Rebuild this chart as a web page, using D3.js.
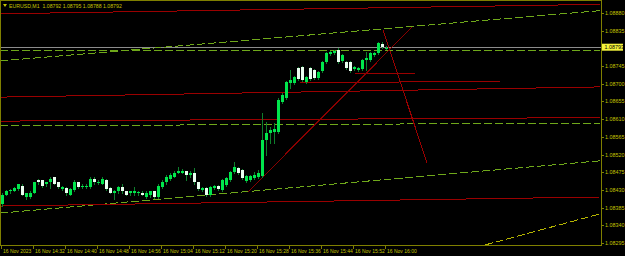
<!DOCTYPE html>
<html>
<head>
<meta charset="utf-8">
<script src="https://cdn.jsdelivr.net/npm/d3@7/dist/d3.min.js"></script>
<style>
  html, body { margin: 0; padding: 0; background: #000; overflow: hidden; }
  text { font-family: "Liberation Sans", Arial, sans-serif; }
</style>
</head>
<body>
<div id="chart"></div>
<script>
var symbol = "EURUSD,M1";
var lastQuote = ["1.08792", "1.08795", "1.08788", "1.08792"];
var bidPrice = 1.08793;

// one-minute bars, 14:24 .. 16:00
var opens = [1.08393, 1.08418, 1.08426, 1.08428, 1.08433, 1.08441, 1.08413, 1.08413, 1.08423, 1.08456,
  1.08454, 1.08444, 1.08449, 1.08462, 1.08449, 1.08433, 1.08436, 1.08418, 1.08431, 1.08449,
  1.08438, 1.08438, 1.08438, 1.08459, 1.08449, 1.08446, 1.08456, 1.08436, 1.08423, 1.08426,
  1.08438, 1.08426, 1.08421, 1.08421, 1.08421, 1.08423, 1.08413, 1.08416, 1.08426, 1.08413,
  1.08438, 1.08449, 1.08459, 1.08464, 1.08474, 1.08474, 1.08477, 1.08467, 1.08474, 1.08449,
  1.08431, 1.08435, 1.08417, 1.08435, 1.08440, 1.08430, 1.08443, 1.08455, 1.08476, 1.08486,
  1.08481, 1.08453, 1.08455, 1.08460, 1.08463, 1.08465, 1.08557, 1.08575, 1.08577, 1.08577,
  1.08654, 1.08664, 1.08702, 1.08702, 1.08740, 1.08743, 1.08705, 1.08740, 1.08735, 1.08715,
  1.08733, 1.08755, 1.08776, 1.08778, 1.08786, 1.08758, 1.08755, 1.08755, 1.08738, 1.08735,
  1.08738, 1.08760, 1.08760, 1.08773, 1.08778, 1.08801, 1.08792];
var highs = [1.08421, 1.08431, 1.08433, 1.08438, 1.08446, 1.08446, 1.08423, 1.08426, 1.08451, 1.08459,
  1.08456, 1.08451, 1.08462, 1.08464, 1.08451, 1.08441, 1.08438, 1.08436, 1.08454, 1.08451,
  1.08444, 1.08446, 1.08462, 1.08462, 1.08454, 1.08462, 1.08459, 1.08438, 1.08431, 1.08441,
  1.08444, 1.08428, 1.08428, 1.08438, 1.08426, 1.08426, 1.08426, 1.08428, 1.08428, 1.08444,
  1.08454, 1.08467, 1.08472, 1.08477, 1.08489, 1.08482, 1.08479, 1.08477, 1.08487, 1.08451,
  1.08438, 1.08438, 1.08440, 1.08443, 1.08443, 1.08458, 1.08463, 1.08478, 1.08501, 1.08488,
  1.08484, 1.08468, 1.08468, 1.08476, 1.08481, 1.08626, 1.08603, 1.08590, 1.08600, 1.08664,
  1.08676, 1.08708, 1.08735, 1.08720, 1.08743, 1.08745, 1.08720, 1.08743, 1.08738, 1.08733,
  1.08758, 1.08781, 1.08783, 1.08786, 1.08791, 1.08776, 1.08758, 1.08758, 1.08745, 1.08743,
  1.08763, 1.08781, 1.08781, 1.08781, 1.08806, 1.08806, 1.08795];
var lows = [1.08390, 1.08416, 1.08423, 1.08426, 1.08431, 1.08416, 1.08408, 1.08410, 1.08421, 1.08446,
  1.08438, 1.08441, 1.08436, 1.08444, 1.08436, 1.08431, 1.08418, 1.08416, 1.08428, 1.08436,
  1.08436, 1.08436, 1.08436, 1.08446, 1.08446, 1.08444, 1.08431, 1.08421, 1.08408, 1.08423,
  1.08423, 1.08416, 1.08418, 1.08418, 1.08418, 1.08416, 1.08410, 1.08413, 1.08410, 1.08410,
  1.08436, 1.08446, 1.08456, 1.08462, 1.08472, 1.08472, 1.08454, 1.08464, 1.08446, 1.08431,
  1.08428, 1.08415, 1.08415, 1.08432, 1.08430, 1.08427, 1.08440, 1.08453, 1.08473, 1.08470,
  1.08458, 1.08450, 1.08453, 1.08458, 1.08460, 1.08463, 1.08519, 1.08549, 1.08549, 1.08575,
  1.08651, 1.08661, 1.08689, 1.08700, 1.08710, 1.08707, 1.08702, 1.08710, 1.08712, 1.08712,
  1.08730, 1.08753, 1.08773, 1.08776, 1.08753, 1.08755, 1.08738, 1.08730, 1.08735, 1.08733,
  1.08735, 1.08735, 1.08758, 1.08771, 1.08776, 1.08791, 1.08788];
var closes = [1.08418, 1.08428, 1.08431, 1.08436, 1.08444, 1.08418, 1.08421, 1.08423, 1.08449, 1.08449,
  1.08441, 1.08449, 1.08459, 1.08446, 1.08438, 1.08438, 1.08421, 1.08433, 1.08451, 1.08438,
  1.08441, 1.08441, 1.08459, 1.08449, 1.08451, 1.08459, 1.08433, 1.08423, 1.08428, 1.08438,
  1.08426, 1.08418, 1.08426, 1.08426, 1.08424, 1.08418, 1.08423, 1.08426, 1.08413, 1.08441,
  1.08451, 1.08464, 1.08469, 1.08474, 1.08479, 1.08479, 1.08469, 1.08474, 1.08449, 1.08433,
  1.08436, 1.08417, 1.08438, 1.08440, 1.08432, 1.08455, 1.08460, 1.08476, 1.08488, 1.08473,
  1.08460, 1.08465, 1.08465, 1.08468, 1.08473, 1.08557, 1.08575, 1.08582, 1.08585, 1.08659,
  1.08671, 1.08705, 1.08710, 1.08717, 1.08712, 1.08710, 1.08717, 1.08712, 1.08715, 1.08730,
  1.08755, 1.08778, 1.08781, 1.08783, 1.08755, 1.08773, 1.08740, 1.08733, 1.08743, 1.08740,
  1.08760, 1.08766, 1.08778, 1.08778, 1.08804, 1.08794, 1.08792];

var timeLabels = ["16 Nov 2023", "16 Nov 14:32", "16 Nov 14:40", "16 Nov 14:48", "16 Nov 14:56",
  "16 Nov 15:04", "16 Nov 15:12", "16 Nov 15:20", "16 Nov 15:28", "16 Nov 15:36",
  "16 Nov 15:44", "16 Nov 15:52", "16 Nov 16:00"];
var timeLabelBars = [0, 8, 16, 24, 32, 40, 48, 56, 64, 72, 80, 88, 96];
var priceTicks = [1.08880, 1.08835, 1.08745, 1.08700, 1.08655, 1.08610, 1.08565,
  1.08520, 1.08475, 1.08430, 1.08385, 1.08340, 1.08295];

// drawn objects: [bar1, price1, bar2, price2]
var redLines = [
  [-0.5, 1.08878, 149.5, 1.08902],
  [-0.5, 1.08666, 149.5, 1.08692],
  [74.5, 1.08702, 124.5, 1.08707],
  [88.25, 1.08727, 103.25, 1.08727],
  [-0.5, 1.08605, 149.5, 1.08614],
  [-0.5, 1.08389, 149.5, 1.08412],
  [95.25, 1.08837, 106.25, 1.08499]
];
var trendLines = [
  [61.5, 1.08425, 102.5, 1.08844]
];
var greenDashed = [
  [-0.5, 1.08758, 149.5, 1.08886],
  [-0.5, 1.08785, 149.5, 1.08785],
  [-0.5, 1.08593, 149.5, 1.08600],
  [-0.5, 1.08371, 149.5, 1.08504]
];
var yellowDashed = [
  [120.75, 1.08290, 149.5, 1.08369]
];

var W = 625, H = 256;
var plot = { left: 1, right: 601, top: 1, bottom: 245 };
var axisColor = "#7f7f00", textColor = "#c4c400";

var svg = d3
  .select("#chart")
  .append("svg")
  .attr("width", W)
  .attr("height", H)
  .style("display", "block")
  .style("background", "#000");

var x = d3.scaleLinear().domain([0, 149.5]).range([2, 600]);
var y = d3.scaleLinear().domain([1.08295, 1.08880]).range([243, 13]);

svg.append("clipPath").attr("id", "plotclip")
  .append("rect")
  .attr("x", plot.left).attr("y", plot.top)
  .attr("width", plot.right - plot.left).attr("height", plot.bottom - plot.top);

var g = svg.append("g").attr("clip-path", "url(#plotclip)");

function drawSegments(list, color, dash) {
  g.append("g")
    .selectAll("line")
    .data(list)
    .enter()
    .append("line")
    .attr("x1", (d) => x(d[0]))
    .attr("y1", (d) => y(d[1]))
    .attr("x2", (d) => x(d[2]))
    .attr("y2", (d) => y(d[3]))
    .attr("stroke", color)
    .attr("stroke-width", 1)
    .attr("stroke-dasharray", dash)
    .attr("shape-rendering", "crispEdges");
}

// bid line
g.append("line")
  .attr("x1", plot.left).attr("x2", plot.right)
  .attr("y1", Math.round(y(bidPrice)) + 0.5).attr("y2", Math.round(y(bidPrice)) + 0.5)
  .attr("stroke", "#8c8c8c")
  .attr("shape-rendering", "crispEdges");

drawSegments(greenDashed, "#6fa81a", "8,3");
drawSegments(yellowDashed, "#b4b400", "8,3");
drawSegments(redLines, "#9a0000", null);
drawSegments(trendLines, "#8a0000", null);

// candles
var bars = d3.range(opens.length).map((i) => ({
  i: i, o: opens[i], h: highs[i], l: lows[i], c: closes[i]
}));

var candle = g.append("g").selectAll("g").data(bars).enter().append("g");

candle.append("line")
  .attr("x1", (d) => Math.round(x(d.i)) + 0.5)
  .attr("x2", (d) => Math.round(x(d.i)) + 0.5)
  .attr("y1", (d) => Math.round(y(d.h)))
  .attr("y2", (d) => Math.round(y(d.l)) + 1)
  .attr("stroke", "#0d7f2c")
  .attr("shape-rendering", "crispEdges");

candle.append("rect")
  .attr("x", (d) => Math.round(x(d.i)) - 1)
  .attr("width", 3)
  .attr("y", (d) => Math.round(y(Math.max(d.o, d.c))))
  .attr("height", (d) => Math.max(1, Math.round(y(Math.min(d.o, d.c))) - Math.round(y(Math.max(d.o, d.c)))))
  .attr("fill", (d) => (d.c >= d.o ? "#00e64c" : "#eafff0"))
  .attr("shape-rendering", "crispEdges");

// frame
svg.append("rect")
  .attr("x", 0.5).attr("y", 0.5)
  .attr("width", plot.right).attr("height", plot.bottom)
  .attr("fill", "none")
  .attr("stroke", axisColor)
  .attr("shape-rendering", "crispEdges");

// price axis
var pt = svg.append("g").selectAll("g").data(priceTicks).enter().append("g");
pt.append("line")
  .attr("x1", plot.right).attr("x2", plot.right + 3)
  .attr("y1", (d) => Math.round(y(d)) + 0.5).attr("y2", (d) => Math.round(y(d)) + 0.5)
  .attr("stroke", axisColor)
  .attr("shape-rendering", "crispEdges");
pt.append("text")
  .attr("x", plot.right + 4)
  .attr("y", (d) => y(d) + 2)
  .attr("font-size", "5.4px")
  .attr("fill", textColor)
  .text((d) => d.toFixed(5));

// current price marker
svg.append("rect")
  .attr("x", plot.right + 1).attr("y", y(bidPrice) - 3.5)
  .attr("width", 21).attr("height", 7)
  .attr("fill", "#f4f43c");
svg.append("text")
  .attr("x", plot.right + 3.5)
  .attr("y", y(bidPrice) + 2)
  .attr("font-size", "5.4px")
  .attr("fill", "#000")
  .text(bidPrice.toFixed(5));

// time axis
var tt = svg.append("g").selectAll("g").data(timeLabelBars).enter().append("g");
tt.append("line")
  .attr("x1", (d) => Math.round(x(d)) - 0.5).attr("x2", (d) => Math.round(x(d)) - 0.5)
  .attr("y1", plot.bottom).attr("y2", plot.bottom + 4)
  .attr("stroke", axisColor)
  .attr("shape-rendering", "crispEdges");
tt.append("text")
  .attr("x", (d) => x(d) + 1)
  .attr("y", plot.bottom + 8)
  .attr("font-size", "5px")
  .attr("fill", textColor)
  .text((d, k) => timeLabels[k]);

// title
svg.append("path")
  .attr("d", "M3,4 L7,4 L5,7 Z")
  .attr("fill", textColor);
svg.append("text")
  .attr("x", 9)
  .attr("y", 7.5)
  .attr("font-size", "5.2px")
  .attr("fill", textColor)
  .attr("xml:space", "preserve")
  .text(symbol + "  " + lastQuote.join(" "));
</script>
</body>
</html>
